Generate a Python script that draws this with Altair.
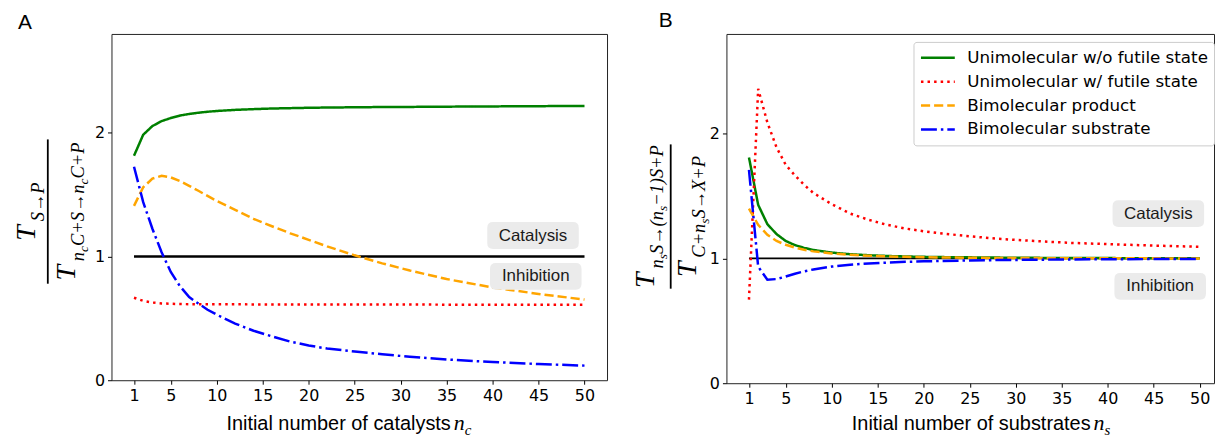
import altair as alt
import pandas as pd

# ---------------- data ----------------
SERIES = ["Unimolecular w/o futile state", "Unimolecular w/ futile state",
          "Bimolecular product", "Bimolecular substrate"]
COLORS = ["#008000", "#ff0000", "#ffa500", "#0000ff"]
DASHES = [[1, 0], [2.5, 4.1], [9.2, 4], [16, 4, 2.5, 4]]

XTICKS = [1, 5, 10, 15, 20, 25, 30, 35, 40, 45, 50]
YTICKS = [0, 1, 2]

# Panel A: x = initial number of catalysts
nA = [1, 2, 3, 4, 5, 6, 7, 8, 9, 10, 12, 14, 16, 18, 20, 22, 25, 28, 31, 35, 40, 45, 50]
A_uni = [1.815, 1.985, 2.055, 2.095, 2.12, 2.14, 2.153, 2.163, 2.171, 2.177, 2.186, 2.192,
         2.197, 2.200, 2.203, 2.205, 2.207, 2.209, 2.21, 2.212, 2.214, 2.216, 2.218]
A_futile = [0.667, 0.642, 0.628, 0.621, 0.618, 0.616, 0.615, 0.615, 0.614, 0.614, 0.614, 0.613,
            0.613, 0.613, 0.613, 0.612, 0.612, 0.612, 0.612, 0.611, 0.611, 0.61, 0.61]
A_biprod = [1.41, 1.56, 1.63, 1.653, 1.64, 1.61, 1.572, 1.532, 1.49, 1.45, 1.378, 1.305,
            1.245, 1.188, 1.135, 1.082, 1.01, 0.945, 0.887, 0.818, 0.75, 0.698, 0.652]
A_bisub = [1.726, 1.44, 1.225, 1.035, 0.875, 0.76, 0.672, 0.62, 0.57, 0.53, 0.458, 0.4,
           0.355, 0.312, 0.281, 0.256, 0.232, 0.21, 0.19, 0.168, 0.147, 0.131, 0.118]

# Panel B: x = initial number of substrates
nB = [1, 2, 3, 4, 5, 6, 7, 8, 10, 12, 14, 16, 18, 20, 22, 25, 28, 32, 36, 40, 45, 50]
B_uni = [1.81, 1.43, 1.275, 1.195, 1.14, 1.107, 1.085, 1.068, 1.047, 1.034, 1.026, 1.02,
         1.016, 1.013, 1.011, 1.009, 1.007, 1.005, 1.004, 1.003, 1.002, 1.002]
B_futile = [0.67, 2.36, 2.09, 1.89, 1.75, 1.665, 1.59, 1.525, 1.435, 1.36, 1.31, 1.27,
            1.24, 1.218, 1.2, 1.178, 1.158, 1.14, 1.125, 1.115, 1.103, 1.094]
B_biprod = [1.40, 1.27, 1.19, 1.14, 1.11, 1.087, 1.07, 1.057, 1.04, 1.03, 1.022, 1.017,
            1.013, 1.01, 1.008, 1.006, 1.004, 1.003, 1.002, 1.001, 1.001, 1.0]
B_bisub = [1.71, 0.935, 0.83, 0.835, 0.855, 0.878, 0.897, 0.912, 0.935, 0.95, 0.96, 0.967,
           0.973, 0.977, 0.98, 0.984, 0.987, 0.99, 0.992, 0.994, 0.995, 0.996]

REF_N = [1, 50]
REF_V = [1, 1]

ANN_LABELS = ["Catalysis", "Inhibition"]
A_ANN_N = [44.4, 44.7]
A_ANN_V = [1.17, 0.84]
B_ANN_N = [45.5, 45.7]
B_ANN_V = [1.36, 0.776]


def long_df(n, vals_list):
    rows = []
    for name, vals in zip(SERIES, vals_list):
        for x, v in zip(n, vals):
            rows.append({"n": x, "v": v, "series": name})
    return pd.DataFrame(rows)


dfA = long_df(nA, [A_uni, A_futile, A_biprod, A_bisub])
dfB = long_df(nB, [B_uni, B_futile, B_biprod, B_bisub])

# ---------------- helpers ----------------
W = {'T': .556, 'S': .5, 'P': .611, 'C': .667, 'X': .611, 'n': .5, 'c': .444, 's': .389,
     '+': .675, '−': .675, '1': .5, '(': .333, ')': .333, '→': 1.0}
SIZES = {0: 28, 1: 18.5, 2: 13.5}
SHIFT = {0: 0, 1: 9, 2: 13}
T_KERN = 4


def tw(s, fs):
    return sum(W.get(ch, .5) for ch in s) * fs


def one(text):
    return pd.DataFrame({"t": [text]})


def text_layer(text, x, y, **kw):
    return alt.Chart(one(text)).mark_text(**kw).encode(
        text="t:N", x=alt.value(x), y=alt.value(y))


def piece_w(t, l):
    return tw(t, SIZES[l]) + (T_KERN if l == 0 else 0)


def fraction(num, den, bar_x, y0, y1, num_base, den_base):
    layers = [alt.Chart(one("bar")).mark_rule(color="black", strokeWidth=1.8).encode(
        x=alt.value(bar_x), y=alt.value(y0), y2=alt.value(y1))]
    center = (y0 + y1) / 2
    for pieces, base in ((num, num_base), (den, den_base)):
        total = sum(piece_w(t, l) for t, l in pieces)
        y = center + total / 2
        for t, l in pieces:
            layers.append(text_layer(t, base + SHIFT[l], y, angle=270, align="left",
                                     baseline="alphabetic", font="Liberation Serif",
                                     fontStyle="italic", fontSize=SIZES[l], color="black"))
            y -= piece_w(t, l)
    return layers


s = 0.293
r = 0.13
BOX = (f"M{-1 + r},{-s} L{1 - r},{-s} Q1,{-s} 1,{-s + r} L1,{s - r} Q1,{s} {1 - r},{s} "
       f"L{-1 + r},{s} Q-1,{s} -1,{s - r} L-1,{-s + r} Q-1,{-s} {-1 + r},{-s} Z")


def panel(df, width, height, xdom, show_legend, ann_n, ann_v, frac, xtitle, sub, xt_pos,
          letter, letter_pos, ref_width):
    x = alt.X("n:Q", scale=alt.Scale(domain=xdom, nice=False, zero=False),
              axis=alt.Axis(values=XTICKS, title=None, format="d"))
    y = alt.Y("v:Q", scale=alt.Scale(domain=[0, 2.8], nice=False, zero=False),
              axis=alt.Axis(values=YTICKS, title=None, format="d"))
    if show_legend:
        leg = alt.Legend(orient="none", legendX=188, legendY=8, title=None,
                         symbolType="stroke", symbolSize=1156, symbolStrokeWidth=2.5,
                         labelFont="DejaVu Sans", labelFontSize=16.8, labelColor="black",
                         labelOffset=11, padding=6, strokeColor="#cccccc", cornerRadius=3,
                         fillColor="white", clipHeight=20, rowPadding=4, labelLimit=400)
    else:
        leg = None
    ref = alt.Chart(pd.DataFrame({"n": REF_N, "v": REF_V})).mark_line(
        color="black", strokeWidth=ref_width).encode(x=x, y=y)
    lines = alt.Chart(df).mark_line(strokeWidth=2.5).encode(
        x=x, y=y,
        color=alt.Color("series:N", scale=alt.Scale(domain=SERIES, range=COLORS), legend=leg),
        strokeDash=alt.StrokeDash("series:N", scale=alt.Scale(domain=SERIES, range=DASHES),
                                  legend=leg),
        detail="series:N")
    ann = pd.DataFrame({"n": ann_n, "v": ann_v, "label": ANN_LABELS})
    boxes = alt.Chart(ann).mark_point(shape=BOX, filled=True, color="#ebebeb", opacity=1,
                                      size=8464, strokeWidth=0).encode(
        x=alt.X("n:Q"), y=alt.Y("v:Q"))
    labels = alt.Chart(ann).mark_text(font="Liberation Sans", fontSize=17, color="#1a1a1a",
                                      baseline="middle").encode(
        x=alt.X("n:Q"), y=alt.Y("v:Q"), text="label:N")
    xa, xn, xs, yb = xt_pos
    titles = [
        text_layer(xtitle, xa, yb, align="right", baseline="alphabetic",
                   font="Liberation Sans", fontSize=20, color="black"),
        text_layer("n", xn, yb, align="left", baseline="alphabetic",
                   font="Liberation Serif", fontStyle="italic", fontSize=22, color="black"),
        text_layer(sub, xs, yb + 5, align="left", baseline="alphabetic",
                   font="Liberation Serif", fontStyle="italic", fontSize=15, color="black"),
        text_layer(letter, letter_pos[0], letter_pos[1], align="left", baseline="alphabetic",
                   font="Liberation Sans", fontSize=21, color="black"),
    ]
    return alt.layer(ref, lines, boxes, labels, *frac, *titles).properties(
        width=width, height=height)


fracA = fraction([("T", 0), ("S→P", 1)],
                 [("T", 0), ("n", 1), ("c", 2), ("C+S→n", 1), ("c", 2), ("C+P", 1)],
                 -64, 106, 251, -77, -37)
fracB = fraction([("T", 0), ("n", 1), ("s", 2), ("S→(n", 1), ("s", 2), ("−1)S+P", 1)],
                 [("T", 0), ("C+n", 1), ("s", 2), ("S→X+P", 1)],
                 -56, 111, 256, -73, -31)

chartA = panel(dfA, 498, 348, [-1.45, 52.45], False, A_ANN_N, A_ANN_V, fracA,
               "Initial number of catalysts", "c", (341, 344, 355, 398), "A", (-94, -5), 2.6)
chartB = panel(dfB, 490, 351, [-1.45, 51.55], True, B_ANN_N, B_ANN_V, fracB,
               "Initial number of substrates", "s", (366, 369, 380, 398), "B", (-68, -7), 1.8)

chart = alt.hconcat(chartA, chartB, spacing=23,
                    padding={"left": 4, "top": 0, "right": 0, "bottom": 0}).resolve_scale(
    color="independent", strokeDash="independent", x="independent", y="independent"
).configure_axis(
    labelFont="DejaVu Sans", labelFontSize=16, labelColor="black", tickColor="black",
    tickSize=4, tickWidth=1, labelPadding=3, domain=False, grid=False
).configure_view(stroke="#222222", strokeWidth=1)

chart.save("out.html", embed_options={"renderer": "svg", "actions": False})
